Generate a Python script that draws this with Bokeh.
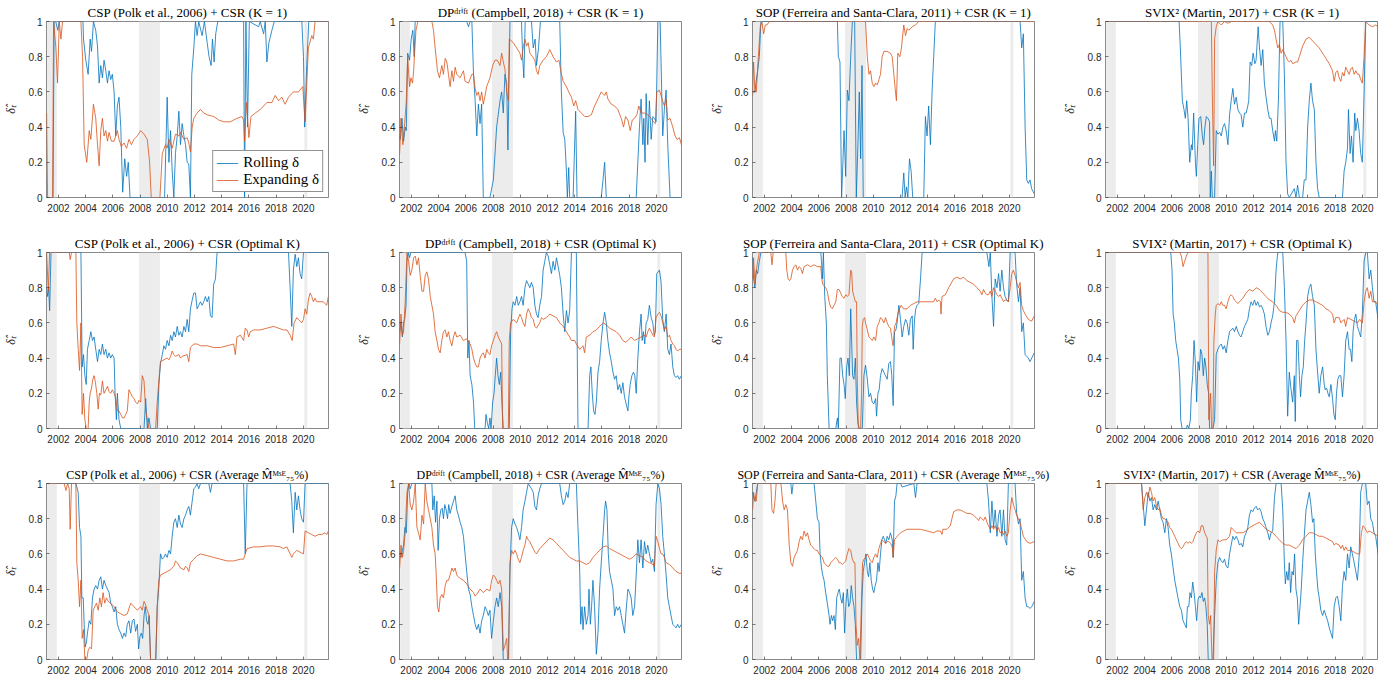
from bokeh.plotting import figure
from bokeh.layouts import column, row
from bokeh.models import Range1d, FixedTicker, Legend, LegendItem, Title
from bokeh.embed import file_html
from bokeh.resources import INLINE

# ---------------- data (decimal year, delta) ----------------
csp_k1_roll = [(2001.10,0.0),(2001.60,0.0),(2001.68,1.0),(2001.80,1.0),(2001.95,0.95),(2002.05,1.0),(2003.80,1.0),(2003.84,0.9),(2004.01,0.78),(2004.18,0.70),(2004.33,0.9),(2004.43,0.83),(2004.57,1.0),(2004.74,0.95),(2004.87,0.86),(2004.99,0.65),(2005.11,0.75),(2005.23,0.68),(2005.35,0.78),(2005.48,0.72),(2005.60,0.65),(2005.72,0.72),(2005.84,0.67),(2005.96,0.7),(2006.09,0.6),(2006.21,0.35),(2006.33,0.52),(2006.45,0.57),(2006.58,0.4),(2006.72,0.03),(2006.87,0.22),(2007.01,0.12),(2007.13,0.2),(2007.26,0.0),(2009.80,0.0),(2009.99,0.57),(2010.12,0.2),(2010.24,0.38),(2010.36,0.15),(2010.48,0.0),(2010.60,0.25),(2010.73,0.35),(2010.85,0.49),(2010.97,0.3),(2011.09,0.42),(2011.22,0.35),(2011.34,0.3),(2011.46,0.2),(2011.58,0.19),(2011.70,0.0),(2011.80,0.7),(2011.95,0.85),(2012.07,1.0),(2012.19,0.92),(2012.31,1.0),(2012.56,0.92),(2012.73,1.0),(2012.93,0.88),(2013.07,0.8),(2013.22,0.75),(2013.32,0.9),(2013.44,0.77),(2013.56,0.93),(2013.71,1.0),(2015.61,1.0),(2015.68,0.0),(2015.78,1.0),(2015.90,0.4),(2016.03,1.0),(2016.71,0.97),(2016.83,1.0),(2017.08,0.93),(2017.20,1.0),(2017.32,0.77),(2017.47,0.88),(2017.69,0.95),(2017.86,1.0),(2019.89,1.0),(2020.01,0.8),(2020.10,0.4),(2020.25,0.75),(2020.40,1.0),(2021.85,1.0)]
csp_k1_exp = [(2001.13,0.48),(2001.20,0.0),(2001.57,0.0),(2001.64,1.0),(2001.81,0.85),(2001.93,0.65),(2002.06,1.0),(2002.18,0.9),(2002.30,1.0),(2003.65,1.0),(2003.77,0.8),(2003.89,0.3),(2004.08,0.2),(2004.26,0.38),(2004.38,0.33),(2004.57,0.53),(2004.74,0.45),(2004.87,0.3),(2004.99,0.18),(2005.11,0.38),(2005.23,0.45),(2005.35,0.35),(2005.48,0.38),(2005.60,0.32),(2005.72,0.37),(2005.89,0.32),(2006.09,0.32),(2006.33,0.38),(2006.45,0.33),(2006.62,0.29),(2006.82,0.31),(2007.01,0.28),(2007.18,0.33),(2007.36,0.3),(2007.55,0.33),(2007.80,0.35),(2008.04,0.38),(2008.29,0.36),(2008.53,0.33),(2008.70,0.2),(2008.82,0.0),(2009.46,0.0),(2009.63,0.25),(2009.87,0.3),(2009.99,0.28),(2010.12,0.33),(2010.36,0.28),(2010.60,0.36),(2010.85,0.35),(2010.97,0.37),(2011.22,0.33),(2011.46,0.34),(2011.58,0.31),(2011.70,0.26),(2011.83,0.4),(2011.95,0.45),(2012.19,0.48),(2012.44,0.5),(2012.68,0.48),(2012.93,0.47),(2013.41,0.46),(2013.78,0.44),(2014.15,0.43),(2014.63,0.43),(2015.12,0.45),(2015.49,0.46),(2015.61,0.44),(2015.68,0.32),(2015.81,0.54),(2015.90,0.45),(2016.00,0.34),(2016.15,0.46),(2016.47,0.48),(2016.83,0.5),(2017.08,0.52),(2017.32,0.54),(2017.69,0.54),(2017.93,0.58),(2018.18,0.55),(2018.42,0.57),(2018.66,0.53),(2018.91,0.57),(2019.27,0.6),(2019.64,0.6),(2019.96,0.63),(2020.13,0.43),(2020.37,0.85),(2020.62,0.92),(2020.74,0.9),(2020.86,1.0),(2021.84,1.0)]

dp_k1_roll = [(2001.13,0.35),(2001.18,0.33),(2001.30,0.45),(2001.42,0.32),(2001.54,0.4),(2001.62,0.38),(2001.72,0.82),(2001.86,0.78),(2001.98,0.9),(2002.10,0.95),(2002.20,0.8),(2002.27,1.0),(2006.06,1.0),(2006.19,0.97),(2006.31,1.0),(2006.44,1.0),(2006.56,0.7),(2006.68,0.55),(2006.80,0.35),(2006.92,0.53),(2007.04,0.42),(2007.16,0.53),(2007.28,0.0),(2007.77,0.0),(2008.02,0.1),(2008.26,0.4),(2008.51,0.55),(2008.63,0.6),(2008.75,0.48),(2008.87,0.7),(2009.00,0.65),(2009.09,0.27),(2009.24,1.0),(2010.09,1.0),(2010.17,0.8),(2010.26,0.68),(2010.36,1.0),(2010.82,1.0),(2010.95,0.85),(2011.09,0.9),(2011.19,0.75),(2011.34,0.85),(2011.48,1.0),(2012.90,1.0),(2013.02,0.6),(2013.15,0.37),(2013.27,0.33),(2013.39,0.15),(2013.46,0.0),(2013.56,0.17),(2013.63,0.0),(2013.88,0.0),(2014.07,0.49),(2014.17,0.0),(2015.95,0.0),(2016.08,0.1),(2016.20,0.2),(2016.32,0.0),(2018.52,0.0),(2018.76,0.4),(2018.88,0.56),(2019.01,0.3),(2019.08,0.45),(2019.17,0.2),(2019.25,0.59),(2019.37,0.3),(2019.49,0.55),(2019.62,0.33),(2019.74,0.46),(2019.86,0.45),(2019.98,0.43),(2020.11,1.0),(2020.28,1.0),(2020.47,0.35),(2020.59,0.5),(2020.72,0.61),(2020.84,0.3),(2021.01,0.0),(2021.84,0.0)]
dp_k1_exp = [(2001.13,0.25),(2001.23,0.45),(2001.37,0.3),(2001.50,0.42),(2001.62,0.55),(2001.72,0.8),(2001.86,0.63),(2001.96,0.68),(2002.08,0.65),(2002.16,0.72),(2002.23,0.82),(2002.33,0.95),(2002.47,1.0),(2003.50,1.0),(2003.62,0.95),(2003.74,0.85),(2003.91,0.72),(2004.06,0.68),(2004.23,0.75),(2004.35,0.7),(2004.48,0.79),(2004.60,0.77),(2004.72,0.7),(2004.84,0.63),(2004.97,0.72),(2005.09,0.66),(2005.21,0.74),(2005.33,0.7),(2005.58,0.68),(2005.82,0.72),(2005.94,0.66),(2006.19,0.65),(2006.44,0.7),(2006.56,0.7),(2006.68,0.62),(2006.80,0.58),(2006.92,0.6),(2007.04,0.55),(2007.16,0.6),(2007.28,0.53),(2007.41,0.58),(2007.53,0.63),(2007.77,0.68),(2007.97,0.75),(2008.14,0.78),(2008.31,0.78),(2008.51,0.75),(2008.63,0.82),(2008.75,0.77),(2008.87,0.73),(2009.00,0.6),(2009.12,0.55),(2009.19,0.9),(2009.48,0.88),(2009.73,0.85),(2009.97,0.82),(2010.09,0.78),(2010.21,0.85),(2010.34,0.9),(2010.46,0.86),(2010.58,0.88),(2010.70,0.82),(2010.90,0.8),(2011.07,0.78),(2011.19,0.72),(2011.31,0.7),(2011.43,0.75),(2011.68,0.78),(2011.92,0.8),(2012.17,0.84),(2012.41,0.8),(2012.66,0.77),(2012.85,0.78),(2012.97,0.72),(2013.15,0.66),(2013.39,0.63),(2013.56,0.6),(2013.76,0.57),(2013.93,0.52),(2014.07,0.55),(2014.24,0.5),(2014.49,0.48),(2014.73,0.46),(2014.98,0.46),(2015.22,0.47),(2015.46,0.52),(2015.71,0.56),(2015.95,0.6),(2016.20,0.58),(2016.32,0.6),(2016.44,0.56),(2016.69,0.53),(2016.93,0.52),(2017.17,0.5),(2017.42,0.45),(2017.59,0.4),(2017.74,0.46),(2017.91,0.44),(2018.08,0.38),(2018.23,0.44),(2018.40,0.45),(2018.57,0.47),(2018.71,0.52),(2018.88,0.48),(2019.13,0.48),(2019.37,0.47),(2019.62,0.45),(2019.79,0.43),(2019.93,0.42),(2020.03,0.6),(2020.23,0.61),(2020.42,0.56),(2020.59,0.52),(2020.72,0.56),(2020.84,0.44),(2021.01,0.45),(2021.21,0.4),(2021.38,0.35),(2021.53,0.33),(2021.70,0.34),(2021.84,0.3)]

sop_k1_roll = [(2001.13,0.6),(2001.30,0.6),(2001.37,0.65),(2001.50,0.72),(2001.62,0.8),(2001.74,1.0),(2007.36,1.0),(2007.43,0.8),(2007.55,0.77),(2007.67,0.0),(2007.85,0.38),(2007.97,0.12),(2008.09,0.61),(2008.21,0.55),(2008.34,0.8),(2008.46,1.0),(2008.63,1.0),(2008.75,0.0),(2008.87,0.3),(2008.97,0.6),(2009.07,0.22),(2009.17,0.75),(2009.26,0.0),(2012.12,0.0),(2012.24,0.14),(2012.34,0.0),(2012.44,0.06),(2012.54,0.0),(2012.66,0.22),(2012.78,0.15),(2012.90,0.0),(2013.71,0.0),(2013.83,0.46),(2013.95,0.35),(2014.07,0.52),(2014.20,0.3),(2014.32,0.6),(2014.44,0.8),(2014.56,1.0),(2020.79,1.0),(2020.91,0.85),(2021.03,0.93),(2021.16,0.4),(2021.28,0.1),(2021.40,0.08),(2021.52,0.1),(2021.64,0.05),(2021.84,0.02)]
sop_k1_exp = [(2001.13,0.58),(2001.20,0.77),(2001.30,0.6),(2001.40,0.6),(2001.55,0.8),(2001.69,0.97),(2001.81,1.0),(2001.94,0.93),(2002.06,0.98),(2002.18,0.98),(2002.35,1.0),(2009.43,1.0),(2009.56,0.8),(2009.68,0.7),(2009.80,0.72),(2009.92,0.65),(2010.04,0.63),(2010.17,0.65),(2010.29,0.64),(2010.41,0.67),(2010.53,0.7),(2010.65,0.8),(2010.78,0.83),(2011.02,0.83),(2011.26,0.82),(2011.39,0.8),(2011.51,0.7),(2011.63,0.6),(2011.70,0.55),(2011.80,0.82),(2011.95,0.8),(2012.07,0.85),(2012.24,0.98),(2012.37,0.92),(2012.49,0.96),(2012.61,0.95),(2012.86,0.97),(2013.10,0.98),(2013.34,1.0),(2021.84,1.0)]

svix_k1_roll = [(2001.13,1.0),(2006.53,1.0),(2006.62,0.85),(2006.77,0.55),(2006.89,0.5),(2006.99,0.45),(2007.09,0.55),(2007.19,0.45),(2007.31,0.2),(2007.43,0.3),(2007.50,0.27),(2007.60,0.48),(2007.73,0.2),(2007.80,0.12),(2007.90,0.3),(2007.99,0.45),(2008.12,0.46),(2008.24,0.35),(2008.33,0.3),(2008.43,0.4),(2008.53,0.46),(2008.65,0.45),(2008.77,0.43),(2008.82,0.0),(2008.90,0.15),(2008.97,0.0),(2009.14,0.0),(2009.26,0.38),(2009.38,0.36),(2009.51,0.37),(2009.63,0.35),(2009.75,0.4),(2009.87,0.42),(2009.99,0.38),(2010.12,0.3),(2010.24,0.47),(2010.36,0.55),(2010.48,0.62),(2010.60,0.53),(2010.73,0.57),(2010.85,0.5),(2010.97,0.48),(2011.09,0.47),(2011.21,0.4),(2011.34,0.48),(2011.46,0.48),(2011.58,0.52),(2011.65,0.55),(2011.75,0.77),(2011.87,0.75),(2011.97,0.82),(2012.10,0.76),(2012.19,0.78),(2012.34,0.97),(2012.44,0.85),(2012.56,0.75),(2012.68,0.84),(2012.80,0.65),(2012.92,0.57),(2013.05,0.5),(2013.17,0.45),(2013.29,0.45),(2013.41,0.38),(2013.54,0.32),(2013.61,0.38),(2013.71,0.32),(2013.83,0.55),(2013.95,1.0),(2014.15,1.0),(2014.27,0.7),(2014.39,0.2),(2014.51,0.02),(2014.63,0.0),(2015.00,0.05),(2015.12,0.0),(2015.24,0.07),(2015.37,0.0),(2015.61,0.0),(2015.73,0.1),(2015.86,0.1),(2015.98,0.4),(2016.10,0.55),(2016.22,0.65),(2016.34,0.55),(2016.47,0.5),(2016.59,0.2),(2016.71,0.05),(2016.83,0.0),(2018.54,0.0),(2018.66,0.15),(2018.78,0.2),(2018.91,0.28),(2018.98,0.5),(2019.10,0.25),(2019.20,0.35),(2019.32,0.2),(2019.44,0.48),(2019.52,0.38),(2019.64,0.45),(2019.76,0.38),(2019.88,0.25),(2020.00,0.2),(2020.13,0.6),(2020.25,1.0),(2021.85,1.0)]
svix_k1_exp = [(2001.13,1.0),(2008.90,1.0),(2008.97,0.6),(2009.07,0.18),(2009.14,0.9),(2009.26,0.97),(2009.38,1.0),(2009.63,0.98),(2009.87,1.0),(2010.12,0.99),(2010.36,1.0),(2013.17,1.0),(2013.41,0.98),(2013.54,0.95),(2013.66,0.9),(2013.78,0.85),(2013.90,0.87),(2014.03,0.82),(2014.15,0.84),(2014.27,0.82),(2014.39,0.8),(2014.51,0.78),(2014.63,0.77),(2014.76,0.78),(2014.88,0.76),(2015.12,0.77),(2015.24,0.77),(2015.37,0.8),(2015.61,0.86),(2015.86,0.9),(2016.10,0.91),(2016.34,0.89),(2016.59,0.87),(2016.83,0.85),(2017.08,0.82),(2017.32,0.79),(2017.57,0.76),(2017.81,0.72),(2017.93,0.66),(2018.05,0.71),(2018.17,0.72),(2018.30,0.68),(2018.42,0.66),(2018.54,0.71),(2018.66,0.69),(2018.78,0.74),(2018.91,0.72),(2019.03,0.7),(2019.15,0.73),(2019.27,0.74),(2019.40,0.7),(2019.52,0.72),(2019.64,0.7),(2019.76,0.7),(2019.88,0.67),(2020.00,0.65),(2020.13,0.8),(2020.25,1.0),(2020.50,0.98),(2020.74,0.97),(2020.98,0.98),(2021.16,0.97),(2021.85,0.97)]

csp_opt_roll = [(2001.13,0.8),(2001.20,0.75),(2001.28,0.8),(2001.35,0.67),(2001.45,1.0),(2003.65,1.0),(2003.74,0.35),(2003.84,0.42),(2003.94,0.3),(2004.04,0.25),(2004.13,0.45),(2004.26,0.5),(2004.38,0.55),(2004.50,0.5),(2004.62,0.52),(2004.74,0.45),(2004.87,0.38),(2004.99,0.45),(2005.11,0.42),(2005.23,0.48),(2005.35,0.42),(2005.48,0.45),(2005.60,0.4),(2005.72,0.43),(2005.84,0.4),(2005.96,0.42),(2006.09,0.4),(2006.16,0.2),(2006.26,0.05),(2006.33,0.2),(2006.45,0.05),(2006.58,0.0),(2008.29,0.0),(2008.41,0.17),(2008.53,0.0),(2008.65,0.06),(2008.77,0.0),(2009.26,0.0),(2009.38,0.25),(2009.50,0.37),(2009.63,0.42),(2009.75,0.47),(2009.87,0.45),(2009.99,0.5),(2010.12,0.47),(2010.24,0.53),(2010.36,0.5),(2010.48,0.55),(2010.60,0.52),(2010.73,0.58),(2010.85,0.53),(2010.97,0.55),(2011.09,0.52),(2011.22,0.58),(2011.34,0.55),(2011.46,0.62),(2011.58,0.55),(2011.70,0.68),(2011.83,0.73),(2011.95,0.77),(2012.07,0.77),(2012.19,0.68),(2012.31,0.7),(2012.44,0.72),(2012.56,0.7),(2012.68,0.72),(2012.80,0.75),(2012.93,0.72),(2013.05,0.75),(2013.17,0.64),(2013.29,0.63),(2013.41,0.82),(2013.54,0.85),(2013.66,1.0),(2018.91,1.0),(2019.03,0.8),(2019.15,0.58),(2019.27,0.9),(2019.40,0.99),(2019.52,0.92),(2019.64,0.97),(2019.76,0.88),(2019.88,0.85),(2020.01,1.0),(2021.84,1.0)]
csp_opt_exp = [(2001.13,1.0),(2001.25,0.78),(2001.35,1.0),(2002.79,1.0),(2002.86,0.96),(2002.96,1.0),(2003.28,1.0),(2003.35,0.6),(2003.45,0.45),(2003.55,0.33),(2003.65,0.6),(2003.74,0.08),(2003.84,0.2),(2003.94,0.05),(2004.04,0.0),(2004.18,0.0),(2004.26,0.15),(2004.33,0.2),(2004.43,0.23),(2004.53,0.28),(2004.62,0.3),(2004.72,0.26),(2004.82,0.2),(2004.92,0.11),(2005.01,0.2),(2005.11,0.19),(2005.23,0.27),(2005.35,0.2),(2005.48,0.22),(2005.60,0.24),(2005.72,0.21),(2005.84,0.2),(2005.96,0.22),(2006.09,0.2),(2006.21,0.17),(2006.33,0.1),(2006.45,0.1),(2006.58,0.08),(2006.70,0.06),(2006.82,0.06),(2006.94,0.08),(2007.06,0.1),(2007.18,0.22),(2007.31,0.2),(2007.43,0.18),(2007.55,0.17),(2007.67,0.15),(2007.80,0.14),(2007.92,0.16),(2008.04,0.15),(2008.16,0.3),(2008.29,0.27),(2008.41,0.1),(2008.53,0.05),(2008.65,0.0),(2009.14,0.0),(2009.26,0.15),(2009.38,0.27),(2009.50,0.38),(2009.75,0.39),(2009.99,0.4),(2010.12,0.39),(2010.24,0.41),(2010.36,0.44),(2010.48,0.42),(2010.60,0.41),(2010.85,0.42),(2010.97,0.4),(2011.09,0.41),(2011.46,0.42),(2011.58,0.38),(2011.70,0.46),(2011.95,0.48),(2012.19,0.48),(2012.44,0.47),(2012.93,0.47),(2013.41,0.46),(2013.90,0.46),(2014.39,0.47),(2014.88,0.48),(2015.00,0.42),(2015.12,0.52),(2015.37,0.53),(2015.61,0.5),(2015.73,0.57),(2015.86,0.56),(2015.98,0.52),(2016.10,0.55),(2016.34,0.56),(2016.83,0.56),(2017.32,0.57),(2017.81,0.58),(2018.18,0.57),(2018.54,0.56),(2018.79,0.56),(2019.03,0.53),(2019.18,0.5),(2019.32,0.6),(2019.52,0.63),(2019.64,0.62),(2019.88,0.6),(2020.01,0.62),(2020.13,0.68),(2020.25,0.65),(2020.37,0.73),(2020.50,0.77),(2020.62,0.75),(2020.74,0.72),(2020.86,0.74),(2020.98,0.72),(2021.23,0.72),(2021.47,0.72),(2021.72,0.7),(2021.84,0.75)]

dp_opt_roll = [(2001.13,0.55),(2001.23,0.6),(2001.33,0.52),(2001.42,0.6),(2001.50,0.62),(2001.60,0.7),(2001.67,0.95),(2001.77,1.0),(2001.86,0.97),(2001.96,1.0),(2005.94,1.0),(2006.06,0.95),(2006.14,0.4),(2006.23,0.5),(2006.31,0.3),(2006.44,0.25),(2006.56,0.15),(2006.65,0.0),(2007.41,0.0),(2007.48,0.08),(2007.58,0.03),(2007.68,0.0),(2007.77,0.06),(2007.85,0.0),(2007.97,0.15),(2008.07,0.2),(2008.16,0.3),(2008.26,0.4),(2008.36,0.3),(2008.46,0.25),(2008.56,0.32),(2008.65,0.15),(2008.75,0.0),(2009.19,0.0),(2009.29,0.55),(2009.39,0.68),(2009.48,0.72),(2009.61,0.7),(2009.73,0.75),(2009.85,0.7),(2009.97,0.72),(2010.09,0.75),(2010.21,0.7),(2010.34,0.8),(2010.46,0.84),(2010.58,0.82),(2010.70,0.8),(2010.82,0.83),(2010.95,0.8),(2011.07,0.7),(2011.19,0.65),(2011.31,0.63),(2011.43,0.7),(2011.56,0.75),(2011.68,0.9),(2011.80,0.95),(2011.92,1.0),(2012.05,0.98),(2012.17,0.93),(2012.29,0.88),(2012.41,0.95),(2012.54,0.9),(2012.66,0.97),(2012.78,0.92),(2012.90,0.87),(2013.02,0.8),(2013.15,0.65),(2013.27,0.55),(2013.39,0.67),(2013.51,0.6),(2013.63,0.67),(2013.76,1.0),(2014.12,1.0),(2014.24,0.0),(2014.98,0.0),(2015.10,0.3),(2015.19,0.35),(2015.29,0.2),(2015.39,0.1),(2015.49,0.08),(2015.59,0.15),(2015.71,0.32),(2015.83,0.38),(2015.95,0.5),(2016.08,0.6),(2016.20,0.66),(2016.32,0.6),(2016.44,0.5),(2016.56,0.43),(2016.69,0.38),(2016.81,0.32),(2016.93,0.28),(2017.05,0.3),(2017.17,0.22),(2017.30,0.25),(2017.42,0.2),(2017.54,0.26),(2017.66,0.18),(2017.78,0.14),(2017.91,0.1),(2017.98,0.18),(2018.08,0.25),(2018.20,0.3),(2018.32,0.32),(2018.42,0.3),(2018.52,0.2),(2018.64,0.4),(2018.76,0.55),(2018.88,0.65),(2018.96,0.5),(2019.05,0.55),(2019.15,0.48),(2019.25,0.6),(2019.37,0.62),(2019.49,0.7),(2019.62,0.63),(2019.74,0.6),(2019.84,0.53),(2019.93,0.55),(2020.03,0.88),(2020.23,0.9),(2020.35,0.83),(2020.47,0.62),(2020.59,0.55),(2020.72,0.65),(2020.84,0.45),(2020.96,0.42),(2021.08,0.48),(2021.21,0.35),(2021.33,0.3),(2021.45,0.29),(2021.57,0.3),(2021.69,0.28),(2021.84,0.3)]
dp_opt_exp = [(2001.13,0.48),(2001.23,0.65),(2001.33,0.53),(2001.42,0.55),(2001.54,0.72),(2001.67,1.0),(2001.79,0.95),(2001.91,0.87),(2002.03,0.9),(2002.16,0.97),(2002.28,0.98),(2002.40,0.93),(2002.52,0.97),(2002.64,0.87),(2002.77,0.78),(2002.89,0.78),(2003.01,0.87),(2003.13,0.89),(2003.25,0.85),(2003.38,0.75),(2003.50,0.7),(2003.62,0.65),(2003.74,0.55),(2003.87,0.5),(2003.99,0.45),(2004.11,0.43),(2004.23,0.5),(2004.35,0.55),(2004.48,0.56),(2004.60,0.52),(2004.72,0.55),(2004.84,0.5),(2004.97,0.47),(2005.09,0.52),(2005.21,0.55),(2005.33,0.52),(2005.58,0.53),(2005.82,0.5),(2006.06,0.51),(2006.31,0.48),(2006.44,0.45),(2006.56,0.4),(2006.68,0.37),(2006.80,0.35),(2006.92,0.35),(2007.04,0.4),(2007.16,0.42),(2007.28,0.43),(2007.41,0.4),(2007.53,0.45),(2007.65,0.43),(2007.77,0.42),(2007.89,0.47),(2008.02,0.5),(2008.14,0.53),(2008.26,0.55),(2008.38,0.52),(2008.51,0.5),(2008.63,0.48),(2008.70,0.0),(2009.12,0.0),(2009.19,0.5),(2009.29,0.6),(2009.48,0.62),(2009.73,0.6),(2009.97,0.65),(2010.09,0.63),(2010.21,0.6),(2010.34,0.58),(2010.46,0.65),(2010.58,0.68),(2010.70,0.66),(2010.82,0.63),(2010.95,0.62),(2011.07,0.58),(2011.19,0.57),(2011.43,0.6),(2011.56,0.63),(2011.68,0.62),(2011.92,0.63),(2012.17,0.65),(2012.41,0.64),(2012.66,0.63),(2012.90,0.6),(2013.15,0.58),(2013.39,0.55),(2013.63,0.52),(2013.76,0.5),(2014.00,0.5),(2014.12,0.48),(2014.37,0.45),(2014.61,0.47),(2014.73,0.43),(2014.85,0.52),(2015.10,0.53),(2015.34,0.55),(2015.59,0.56),(2015.83,0.58),(2016.08,0.6),(2016.32,0.59),(2016.56,0.57),(2016.81,0.56),(2017.05,0.55),(2017.30,0.53),(2017.54,0.5),(2017.74,0.49),(2017.91,0.5),(2018.15,0.52),(2018.40,0.5),(2018.64,0.51),(2018.88,0.52),(2019.13,0.53),(2019.25,0.52),(2019.37,0.55),(2019.49,0.57),(2019.62,0.55),(2019.74,0.53),(2019.86,0.52),(2019.98,0.63),(2020.11,0.65),(2020.23,0.66),(2020.35,0.64),(2020.47,0.6),(2020.59,0.56),(2020.72,0.58),(2020.84,0.52),(2020.96,0.53),(2021.08,0.5),(2021.21,0.48),(2021.33,0.47),(2021.45,0.45),(2021.57,0.44),(2021.69,0.45),(2021.84,0.45)]

sop_opt_roll = [(2001.13,0.97),(2001.20,0.85),(2001.30,0.8),(2001.40,0.9),(2001.50,0.88),(2001.62,0.95),(2001.74,1.0),(2006.14,1.0),(2006.19,0.95),(2006.26,0.85),(2006.33,1.0),(2006.43,0.75),(2006.55,0.6),(2006.62,0.3),(2006.75,0.0),(2007.24,0.0),(2007.36,0.06),(2007.43,0.0),(2007.55,0.4),(2007.65,0.4),(2007.75,0.3),(2007.85,0.25),(2007.94,0.17),(2008.04,0.35),(2008.14,0.4),(2008.24,0.3),(2008.34,0.68),(2008.41,0.5),(2008.48,0.3),(2008.58,0.28),(2008.68,0.4),(2008.77,0.15),(2008.87,0.03),(2008.97,0.0),(2009.19,0.0),(2009.31,0.3),(2009.43,0.36),(2009.56,0.28),(2009.68,0.18),(2009.80,0.2),(2009.92,0.15),(2010.04,0.14),(2010.17,0.17),(2010.24,0.07),(2010.34,0.2),(2010.43,0.22),(2010.53,0.3),(2010.65,0.34),(2010.78,0.32),(2010.90,0.3),(2011.02,0.28),(2011.14,0.37),(2011.26,0.38),(2011.36,0.3),(2011.46,0.13),(2011.56,0.55),(2011.66,0.56),(2011.75,0.6),(2011.88,0.7),(2012.00,0.62),(2012.12,0.52),(2012.24,0.58),(2012.37,0.62),(2012.49,0.6),(2012.61,0.53),(2012.73,0.62),(2012.86,0.64),(2012.93,0.45),(2013.03,0.62),(2013.12,0.68),(2013.22,0.7),(2013.34,0.71),(2013.47,0.85),(2013.59,1.0),(2018.35,1.0),(2018.50,0.92),(2018.60,1.0),(2018.72,0.75),(2018.84,0.58),(2018.96,0.85),(2019.09,0.8),(2019.21,0.88),(2019.32,0.78),(2019.45,0.9),(2019.57,0.8),(2019.69,0.75),(2019.81,0.73),(2019.93,0.72),(2020.06,1.0),(2020.42,1.0),(2020.54,0.82),(2020.67,0.72),(2020.79,0.8),(2020.91,0.55),(2021.03,0.6),(2021.16,0.42),(2021.28,0.41),(2021.40,0.4),(2021.52,0.38),(2021.84,0.43)]
sop_opt_exp = [(2001.13,0.85),(2001.20,0.97),(2001.30,0.82),(2001.40,0.9),(2001.50,0.95),(2001.62,1.0),(2002.47,1.0),(2002.55,0.93),(2002.64,1.0),(2003.57,1.0),(2003.64,0.9),(2003.74,0.85),(2003.84,0.84),(2003.94,0.85),(2004.06,0.9),(2004.18,0.92),(2004.30,0.93),(2004.43,0.9),(2004.55,0.92),(2004.67,0.91),(2004.79,0.88),(2004.91,0.92),(2005.16,0.93),(2005.40,0.92),(2005.65,0.93),(2005.89,0.92),(2006.14,0.92),(2006.21,0.85),(2006.28,0.82),(2006.38,0.81),(2006.50,0.8),(2006.62,0.78),(2006.75,0.72),(2006.87,0.69),(2006.99,0.68),(2007.11,0.7),(2007.24,0.72),(2007.36,0.79),(2007.48,0.79),(2007.60,0.77),(2007.72,0.75),(2007.85,0.74),(2007.97,0.76),(2008.09,0.75),(2008.21,0.76),(2008.34,0.9),(2008.41,0.89),(2008.48,0.78),(2008.58,0.75),(2008.68,0.72),(2008.77,0.72),(2008.82,0.3),(2008.90,0.0),(2009.07,0.0),(2009.14,0.2),(2009.19,0.58),(2009.26,0.62),(2009.36,0.63),(2009.43,0.6),(2009.56,0.56),(2009.68,0.52),(2009.80,0.51),(2009.92,0.5),(2010.04,0.52),(2010.17,0.5),(2010.29,0.58),(2010.41,0.6),(2010.53,0.63),(2010.65,0.62),(2010.78,0.6),(2010.90,0.63),(2011.02,0.6),(2011.14,0.58),(2011.26,0.57),(2011.39,0.5),(2011.46,0.47),(2011.56,0.58),(2011.68,0.6),(2011.80,0.65),(2011.92,0.68),(2012.05,0.7),(2012.24,0.68),(2012.49,0.68),(2012.73,0.7),(2012.98,0.71),(2013.22,0.72),(2013.96,0.72),(2014.44,0.72),(2014.56,0.74),(2014.69,0.72),(2014.81,0.73),(2014.93,0.72),(2014.98,0.65),(2015.05,0.75),(2015.30,0.76),(2015.54,0.8),(2015.91,0.85),(2016.15,0.86),(2016.39,0.85),(2016.64,0.86),(2016.88,0.84),(2017.13,0.83),(2017.37,0.82),(2017.62,0.8),(2017.86,0.78),(2017.98,0.76),(2018.10,0.79),(2018.23,0.77),(2018.35,0.76),(2018.47,0.76),(2018.60,0.78),(2018.72,0.75),(2018.84,0.8),(2018.96,0.78),(2019.09,0.76),(2019.21,0.75),(2019.32,0.76),(2019.45,0.74),(2019.57,0.72),(2019.69,0.73),(2019.81,0.73),(2019.93,0.72),(2020.06,0.8),(2020.18,0.88),(2020.30,0.9),(2020.42,0.87),(2020.54,0.83),(2020.67,0.8),(2020.79,0.83),(2020.91,0.7),(2021.03,0.67),(2021.16,0.65),(2021.40,0.62),(2021.64,0.61),(2021.84,0.64)]

svix_opt_roll = [(2001.13,1.0),(2005.92,1.0),(2006.01,0.9),(2006.09,0.65),(2006.18,0.6),(2006.28,0.5),(2006.38,0.45),(2006.48,0.4),(2006.58,0.28),(2006.65,0.05),(2006.75,0.0),(2007.06,0.0),(2007.14,0.02),(2007.24,0.0),(2007.36,0.05),(2007.43,0.2),(2007.53,0.3),(2007.63,0.5),(2007.73,0.37),(2007.82,0.15),(2007.92,0.38),(2008.02,0.33),(2008.11,0.45),(2008.21,0.42),(2008.31,0.3),(2008.41,0.4),(2008.50,0.35),(2008.60,0.25),(2008.70,0.2),(2008.77,0.0),(2009.02,0.0),(2009.14,0.05),(2009.26,0.42),(2009.38,0.45),(2009.51,0.47),(2009.63,0.48),(2009.75,0.45),(2009.87,0.47),(2009.99,0.43),(2010.12,0.5),(2010.24,0.55),(2010.36,0.56),(2010.48,0.57),(2010.60,0.55),(2010.73,0.58),(2010.85,0.55),(2010.97,0.53),(2011.09,0.52),(2011.21,0.55),(2011.34,0.58),(2011.46,0.6),(2011.58,0.62),(2011.70,0.68),(2011.82,0.72),(2011.95,0.7),(2012.07,0.73),(2012.19,0.7),(2012.31,0.72),(2012.44,0.69),(2012.56,0.7),(2012.68,0.68),(2012.80,0.65),(2012.92,0.58),(2013.05,0.53),(2013.17,0.55),(2013.29,0.6),(2013.41,0.64),(2013.54,0.72),(2013.66,0.9),(2013.78,1.0),(2014.15,1.0),(2014.27,0.8),(2014.39,0.5),(2014.51,0.07),(2014.63,0.32),(2014.76,0.22),(2014.88,0.15),(2015.00,0.3),(2015.07,0.04),(2015.17,0.5),(2015.27,0.5),(2015.37,0.3),(2015.46,0.18),(2015.56,0.3),(2015.66,0.35),(2015.76,0.5),(2015.86,0.6),(2015.98,0.75),(2016.10,0.8),(2016.22,0.82),(2016.34,0.75),(2016.47,0.7),(2016.59,0.45),(2016.71,0.32),(2016.83,0.2),(2016.95,0.3),(2017.08,0.35),(2017.20,0.25),(2017.27,0.22),(2017.37,0.23),(2017.47,0.2),(2017.57,0.18),(2017.69,0.25),(2017.81,0.17),(2017.91,0.08),(2018.01,0.05),(2018.10,0.2),(2018.20,0.28),(2018.30,0.3),(2018.42,0.3),(2018.54,0.18),(2018.66,0.3),(2018.78,0.5),(2018.91,0.55),(2019.03,0.45),(2019.13,0.45),(2019.23,0.38),(2019.32,0.55),(2019.42,0.62),(2019.52,0.65),(2019.64,0.58),(2019.76,0.55),(2019.88,0.52),(2020.00,0.65),(2020.13,0.95),(2020.25,1.0),(2020.37,1.0),(2020.50,0.85),(2020.62,0.9),(2020.74,0.8),(2020.86,0.72),(2020.98,0.72),(2021.16,0.62)]
svix_opt_exp = [(2001.13,1.0),(2006.58,1.0),(2006.70,0.98),(2006.82,0.92),(2006.94,0.95),(2007.06,0.98),(2007.19,1.0),(2008.65,1.0),(2008.72,0.05),(2008.77,0.1),(2008.85,0.2),(2008.92,0.0),(2009.02,0.0),(2009.09,0.5),(2009.19,0.65),(2009.26,0.7),(2009.38,0.71),(2009.51,0.7),(2009.63,0.72),(2009.75,0.7),(2009.87,0.7),(2009.99,0.68),(2010.12,0.72),(2010.24,0.75),(2010.36,0.76),(2010.48,0.75),(2010.60,0.73),(2010.73,0.72),(2010.85,0.71),(2010.97,0.72),(2011.21,0.74),(2011.46,0.77),(2011.70,0.79),(2011.95,0.78),(2012.19,0.8),(2012.44,0.79),(2012.68,0.77),(2012.92,0.75),(2013.17,0.73),(2013.41,0.72),(2013.66,0.7),(2013.90,0.67),(2014.15,0.66),(2014.39,0.66),(2014.63,0.65),(2014.88,0.63),(2015.00,0.6),(2015.12,0.64),(2015.37,0.67),(2015.61,0.7),(2015.86,0.72),(2016.10,0.73),(2016.34,0.73),(2016.59,0.72),(2016.83,0.71),(2017.08,0.7),(2017.32,0.68),(2017.57,0.67),(2017.81,0.65),(2017.93,0.6),(2018.05,0.63),(2018.30,0.63),(2018.42,0.6),(2018.66,0.62),(2018.78,0.58),(2018.91,0.63),(2019.15,0.62),(2019.40,0.61),(2019.64,0.6),(2019.81,0.62),(2020.00,0.6),(2020.13,0.72),(2020.25,0.78),(2020.37,0.8),(2020.50,0.74),(2020.62,0.78),(2020.74,0.72),(2020.98,0.72),(2021.16,0.7)]

csp_avg_roll = [(2001.13,1.0),(2003.28,1.0),(2003.45,0.95),(2003.55,0.75),(2003.65,0.7),(2003.72,0.35),(2003.82,0.35),(2003.89,0.2),(2003.96,0.07),(2004.06,0.1),(2004.13,0.15),(2004.26,0.22),(2004.38,0.2),(2004.50,0.35),(2004.62,0.4),(2004.74,0.42),(2004.87,0.4),(2004.99,0.45),(2005.11,0.47),(2005.23,0.4),(2005.35,0.45),(2005.48,0.42),(2005.60,0.4),(2005.72,0.38),(2005.84,0.32),(2005.96,0.3),(2006.09,0.27),(2006.21,0.3),(2006.33,0.2),(2006.45,0.17),(2006.58,0.15),(2006.70,0.12),(2006.82,0.15),(2006.94,0.13),(2007.06,0.2),(2007.18,0.22),(2007.31,0.15),(2007.43,0.22),(2007.55,0.23),(2007.67,0.16),(2007.80,0.2),(2007.89,0.06),(2007.99,0.13),(2008.09,0.15),(2008.19,0.12),(2008.29,0.25),(2008.38,0.3),(2008.48,0.22),(2008.58,0.2),(2008.67,0.25),(2008.77,0.0),(2009.16,0.0),(2009.26,0.3),(2009.38,0.42),(2009.50,0.6),(2009.63,0.57),(2009.75,0.58),(2009.87,0.6),(2009.99,0.58),(2010.12,0.62),(2010.24,0.6),(2010.36,0.7),(2010.48,0.78),(2010.60,0.8),(2010.73,0.75),(2010.85,0.82),(2010.97,0.77),(2011.09,0.75),(2011.22,0.8),(2011.34,0.82),(2011.46,0.85),(2011.58,0.87),(2011.70,0.82),(2011.83,0.9),(2011.95,0.97),(2012.07,0.98),(2012.19,1.0),(2012.31,0.97),(2012.44,1.0),(2013.05,1.0),(2013.17,0.95),(2013.29,1.0),(2015.61,1.0),(2015.73,0.6),(2015.86,1.0),(2019.03,1.0),(2019.15,0.9),(2019.27,0.72),(2019.40,0.95),(2019.52,0.85),(2019.64,0.93),(2019.76,0.85),(2019.88,0.8),(2020.01,0.78),(2020.13,1.0),(2021.84,1.0)]
csp_avg_exp = [(2001.13,1.0),(2002.42,1.0),(2002.55,0.96),(2002.67,1.0),(2002.79,0.97),(2002.86,0.74),(2002.96,1.0),(2003.28,1.0),(2003.35,0.55),(2003.45,0.45),(2003.55,0.3),(2003.65,0.45),(2003.74,0.12),(2003.84,0.17),(2003.94,0.0),(2004.08,0.0),(2004.18,0.05),(2004.30,0.07),(2004.43,0.06),(2004.55,0.28),(2004.67,0.3),(2004.79,0.32),(2004.92,0.28),(2005.04,0.35),(2005.16,0.3),(2005.28,0.38),(2005.40,0.32),(2005.53,0.35),(2005.65,0.33),(2005.84,0.32),(2006.09,0.3),(2006.33,0.27),(2006.58,0.26),(2006.82,0.25),(2007.06,0.26),(2007.31,0.32),(2007.55,0.3),(2007.80,0.28),(2008.04,0.3),(2008.16,0.28),(2008.29,0.33),(2008.41,0.31),(2008.53,0.28),(2008.65,0.25),(2008.77,0.0),(2009.14,0.0),(2009.26,0.3),(2009.38,0.45),(2009.50,0.48),(2009.99,0.5),(2010.24,0.51),(2010.48,0.53),(2010.60,0.56),(2010.73,0.55),(2010.97,0.52),(2011.22,0.51),(2011.34,0.53),(2011.46,0.52),(2011.58,0.5),(2011.70,0.55),(2011.95,0.57),(2012.19,0.59),(2012.44,0.6),(2012.93,0.59),(2013.41,0.58),(2013.90,0.57),(2014.39,0.56),(2014.88,0.56),(2015.37,0.57),(2015.61,0.57),(2015.73,0.6),(2015.86,0.63),(2016.34,0.64),(2016.83,0.64),(2017.32,0.645),(2017.81,0.645),(2018.30,0.64),(2018.54,0.63),(2018.79,0.64),(2019.03,0.6),(2019.15,0.58),(2019.27,0.6),(2019.52,0.62),(2019.76,0.61),(2020.01,0.6),(2020.13,0.73),(2020.37,0.72),(2020.62,0.71),(2020.86,0.7),(2021.11,0.71),(2021.35,0.71),(2021.60,0.72),(2021.72,0.71),(2021.84,0.73)]

dp_avg_roll = [(2001.13,0.6),(2001.23,0.58),(2001.33,0.62),(2001.42,0.65),(2001.52,0.75),(2001.62,0.72),(2001.72,0.95),(2001.82,1.0),(2001.91,0.97),(2002.03,1.0),(2003.50,1.0),(2003.57,0.85),(2003.67,0.93),(2003.77,0.78),(2003.87,0.9),(2003.96,0.62),(2004.06,0.8),(2004.16,0.85),(2004.26,0.86),(2004.35,0.8),(2004.45,0.88),(2004.55,0.85),(2004.65,0.8),(2004.74,0.88),(2004.84,0.83),(2004.97,0.87),(2005.09,0.9),(2005.21,0.93),(2005.33,0.85),(2005.45,0.82),(2005.58,0.78),(2005.70,0.75),(2005.82,0.7),(2005.94,0.6),(2006.06,0.5),(2006.19,0.4),(2006.31,0.37),(2006.44,0.3),(2006.56,0.25),(2006.68,0.2),(2006.80,0.17),(2006.92,0.2),(2007.04,0.15),(2007.16,0.22),(2007.28,0.25),(2007.41,0.3),(2007.53,0.28),(2007.65,0.25),(2007.77,0.28),(2007.89,0.12),(2008.02,0.22),(2008.14,0.3),(2008.26,0.35),(2008.38,0.3),(2008.51,0.38),(2008.63,0.3),(2008.75,0.0),(2009.12,0.0),(2009.24,0.5),(2009.36,0.75),(2009.48,0.8),(2009.61,0.77),(2009.73,0.75),(2009.85,0.72),(2009.97,0.68),(2010.09,0.75),(2010.21,0.85),(2010.34,0.9),(2010.46,0.95),(2010.58,1.0),(2010.82,0.97),(2010.95,0.95),(2011.07,0.87),(2011.19,0.85),(2011.31,0.93),(2011.43,0.97),(2011.56,1.0),(2012.90,1.0),(2013.02,0.93),(2013.15,0.88),(2013.27,0.9),(2013.39,0.95),(2013.51,0.92),(2013.63,1.0),(2014.12,1.0),(2014.24,0.75),(2014.37,0.5),(2014.44,0.2),(2014.54,0.3),(2014.61,0.17),(2014.73,0.3),(2014.85,0.2),(2014.98,0.25),(2015.05,0.4),(2015.15,0.2),(2015.24,0.3),(2015.34,0.45),(2015.46,0.3),(2015.59,0.03),(2015.71,0.15),(2015.83,0.4),(2015.95,0.55),(2016.08,0.7),(2016.20,0.85),(2016.27,0.9),(2016.37,0.85),(2016.47,0.6),(2016.56,0.5),(2016.69,0.45),(2016.81,0.4),(2016.93,0.25),(2017.05,0.3),(2017.17,0.28),(2017.30,0.3),(2017.42,0.25),(2017.54,0.2),(2017.66,0.15),(2017.78,0.28),(2017.91,0.4),(2018.03,0.38),(2018.15,0.35),(2018.27,0.25),(2018.40,0.3),(2018.52,0.48),(2018.64,0.68),(2018.76,0.55),(2018.88,0.68),(2019.01,0.52),(2019.13,0.67),(2019.25,0.6),(2019.37,0.65),(2019.49,0.6),(2019.62,0.55),(2019.74,0.57),(2019.86,0.5),(2019.98,0.88),(2020.11,1.0),(2020.23,0.97),(2020.35,0.88),(2020.47,0.7),(2020.59,0.6),(2020.72,0.48),(2020.84,0.35),(2020.96,0.3),(2021.08,0.25),(2021.21,0.2),(2021.33,0.19),(2021.45,0.18),(2021.57,0.2),(2021.69,0.18),(2021.84,0.2)]
dp_avg_exp = [(2001.13,0.52),(2001.23,0.65),(2001.33,0.58),(2001.42,0.62),(2001.54,0.72),(2001.67,0.95),(2001.79,1.0),(2001.91,0.88),(2002.03,0.85),(2002.16,0.9),(2002.28,1.0),(2002.40,0.75),(2002.52,0.72),(2002.64,0.68),(2002.77,0.82),(2002.89,0.77),(2003.01,1.0),(2003.13,0.9),(2003.25,0.85),(2003.38,0.8),(2003.50,0.75),(2003.62,0.65),(2003.74,0.6),(2003.82,0.48),(2003.91,0.3),(2004.01,0.27),(2004.11,0.35),(2004.23,0.37),(2004.35,0.35),(2004.48,0.42),(2004.60,0.45),(2004.72,0.45),(2004.84,0.48),(2004.97,0.52),(2005.09,0.5),(2005.21,0.52),(2005.33,0.48),(2005.45,0.47),(2005.58,0.46),(2005.82,0.45),(2006.06,0.43),(2006.31,0.4),(2006.56,0.38),(2006.68,0.36),(2006.80,0.37),(2007.04,0.4),(2007.28,0.38),(2007.53,0.4),(2007.77,0.39),(2007.89,0.45),(2008.02,0.48),(2008.14,0.47),(2008.26,0.45),(2008.38,0.43),(2008.51,0.45),(2008.63,0.4),(2008.75,0.05),(2008.87,0.08),(2009.00,0.12),(2009.07,0.0),(2009.14,0.0),(2009.24,0.55),(2009.36,0.62),(2009.48,0.6),(2009.61,0.62),(2009.73,0.6),(2009.85,0.57),(2009.97,0.55),(2010.09,0.58),(2010.21,0.62),(2010.34,0.65),(2010.46,0.7),(2010.58,0.68),(2010.70,0.67),(2010.82,0.65),(2010.95,0.63),(2011.07,0.61),(2011.19,0.6),(2011.43,0.63),(2011.68,0.65),(2011.92,0.67),(2012.17,0.69),(2012.41,0.68),(2012.66,0.66),(2012.90,0.64),(2013.15,0.62),(2013.39,0.6),(2013.63,0.58),(2013.88,0.57),(2014.12,0.56),(2014.37,0.56),(2014.61,0.55),(2014.85,0.54),(2015.10,0.55),(2015.34,0.58),(2015.59,0.6),(2015.83,0.62),(2016.08,0.64),(2016.32,0.645),(2016.56,0.63),(2016.81,0.62),(2017.05,0.61),(2017.30,0.6),(2017.54,0.59),(2017.78,0.58),(2018.03,0.57),(2018.27,0.58),(2018.52,0.6),(2018.76,0.59),(2019.01,0.58),(2019.25,0.56),(2019.49,0.55),(2019.74,0.54),(2019.86,0.53),(2019.98,0.7),(2020.11,0.67),(2020.23,0.63),(2020.35,0.6),(2020.47,0.6),(2020.59,0.58),(2020.72,0.55),(2020.96,0.54),(2021.21,0.52),(2021.45,0.5),(2021.69,0.49),(2021.84,0.49)]

sop_avg_roll = [(2001.13,0.95),(2001.20,0.92),(2001.30,0.9),(2001.40,0.95),(2001.50,1.0),(2003.94,1.0),(2004.01,0.94),(2004.11,1.0),(2005.65,1.0),(2005.77,0.9),(2005.89,0.8),(2006.01,0.78),(2006.09,0.6),(2006.19,0.52),(2006.28,0.48),(2006.38,0.45),(2006.50,0.38),(2006.62,0.32),(2006.75,0.25),(2006.82,0.2),(2006.92,0.25),(2007.01,0.22),(2007.11,0.25),(2007.21,0.17),(2007.31,0.35),(2007.41,0.38),(2007.50,0.4),(2007.60,0.35),(2007.70,0.32),(2007.80,0.38),(2007.89,0.15),(2007.99,0.32),(2008.09,0.4),(2008.19,0.3),(2008.29,0.32),(2008.38,0.42),(2008.48,0.35),(2008.58,0.3),(2008.68,0.2),(2008.77,0.0),(2009.07,0.0),(2009.17,0.35),(2009.26,0.5),(2009.36,0.55),(2009.46,0.6),(2009.56,0.5),(2009.65,0.47),(2009.75,0.55),(2009.85,0.45),(2009.95,0.4),(2010.04,0.38),(2010.14,0.42),(2010.24,0.45),(2010.34,0.55),(2010.43,0.5),(2010.53,0.6),(2010.63,0.68),(2010.73,0.7),(2010.83,0.68),(2010.92,0.66),(2011.02,0.7),(2011.14,0.68),(2011.26,0.72),(2011.39,0.68),(2011.46,0.58),(2011.56,0.9),(2011.66,0.93),(2011.75,1.0),(2012.00,1.0),(2012.12,0.98),(2012.98,1.0),(2013.10,0.92),(2013.22,1.0),(2018.35,1.0),(2018.47,0.9),(2018.60,0.72),(2018.72,0.9),(2018.84,0.75),(2018.96,0.85),(2019.09,0.7),(2019.21,0.82),(2019.32,0.85),(2019.45,0.7),(2019.57,0.85),(2019.69,0.68),(2019.81,0.65),(2019.93,1.0),(2020.42,1.0),(2020.54,0.83),(2020.67,0.77),(2020.79,0.8),(2020.91,0.45),(2021.03,0.5),(2021.16,0.35),(2021.28,0.3),(2021.40,0.3),(2021.52,0.29),(2021.64,0.3),(2021.84,0.33)]
sop_avg_exp = [(2001.13,0.85),(2001.20,0.95),(2001.30,0.9),(2001.40,0.9),(2001.50,1.0),(2002.47,1.0),(2002.55,0.85),(2002.67,0.83),(2002.77,0.9),(2002.86,1.0),(2003.21,1.0),(2003.33,0.9),(2003.45,0.85),(2003.57,0.88),(2003.69,0.85),(2003.82,0.65),(2003.94,0.55),(2004.06,0.53),(2004.18,0.58),(2004.30,0.6),(2004.43,0.62),(2004.55,0.67),(2004.67,0.7),(2004.79,0.68),(2004.91,0.73),(2005.04,0.7),(2005.16,0.72),(2005.28,0.68),(2005.40,0.65),(2005.52,0.64),(2005.65,0.63),(2005.77,0.62),(2005.89,0.62),(2006.01,0.6),(2006.14,0.59),(2006.26,0.58),(2006.38,0.55),(2006.50,0.54),(2006.62,0.53),(2006.75,0.53),(2006.87,0.55),(2006.99,0.56),(2007.11,0.57),(2007.24,0.58),(2007.36,0.57),(2007.48,0.55),(2007.60,0.55),(2007.72,0.54),(2007.85,0.55),(2007.97,0.56),(2008.09,0.6),(2008.21,0.63),(2008.34,0.62),(2008.46,0.57),(2008.58,0.55),(2008.65,0.55),(2008.73,0.2),(2008.82,0.08),(2008.92,0.12),(2009.02,0.0),(2009.12,0.3),(2009.21,0.55),(2009.31,0.57),(2009.43,0.58),(2009.56,0.6),(2009.68,0.58),(2009.80,0.56),(2009.92,0.55),(2010.04,0.58),(2010.17,0.6),(2010.29,0.58),(2010.41,0.63),(2010.53,0.66),(2010.65,0.68),(2010.78,0.67),(2010.90,0.66),(2011.02,0.67),(2011.14,0.67),(2011.26,0.66),(2011.39,0.64),(2011.46,0.58),(2011.56,0.68),(2011.75,0.7),(2012.00,0.72),(2012.24,0.73),(2012.49,0.74),(2012.98,0.74),(2013.47,0.74),(2013.96,0.73),(2014.44,0.72),(2014.68,0.73),(2014.93,0.73),(2015.05,0.71),(2015.12,0.74),(2015.42,0.74),(2015.66,0.76),(2015.78,0.8),(2015.91,0.84),(2016.15,0.85),(2016.39,0.85),(2016.64,0.84),(2016.88,0.83),(2017.13,0.83),(2017.37,0.82),(2017.62,0.8),(2017.74,0.79),(2017.86,0.81),(2017.98,0.8),(2018.10,0.79),(2018.23,0.81),(2018.35,0.78),(2018.47,0.76),(2018.60,0.74),(2018.72,0.76),(2018.84,0.74),(2018.96,0.76),(2019.09,0.73),(2019.21,0.75),(2019.32,0.72),(2019.45,0.73),(2019.57,0.71),(2019.69,0.73),(2019.81,0.7),(2019.93,0.72),(2020.06,0.85),(2020.18,0.92),(2020.30,0.88),(2020.42,0.85),(2020.54,0.82),(2020.67,0.8),(2020.79,0.78),(2020.91,0.74),(2021.03,0.7),(2021.28,0.67),(2021.52,0.66),(2021.84,0.67)]

svix_avg_roll = [(2001.13,1.0),(2003.77,1.0),(2003.89,0.88),(2004.01,0.76),(2004.13,0.85),(2004.26,0.95),(2004.38,0.9),(2004.50,0.92),(2004.62,0.85),(2004.74,0.88),(2004.87,0.85),(2004.99,0.9),(2005.11,0.85),(2005.23,0.8),(2005.35,0.78),(2005.48,0.72),(2005.60,0.8),(2005.72,0.75),(2005.84,0.65),(2005.96,0.6),(2006.09,0.52),(2006.21,0.45),(2006.33,0.4),(2006.45,0.35),(2006.58,0.3),(2006.70,0.28),(2006.82,0.22),(2006.94,0.2),(2007.06,0.18),(2007.14,0.3),(2007.24,0.3),(2007.33,0.38),(2007.43,0.35),(2007.53,0.44),(2007.63,0.38),(2007.73,0.3),(2007.82,0.22),(2007.92,0.34),(2008.02,0.36),(2008.11,0.35),(2008.21,0.38),(2008.31,0.33),(2008.41,0.35),(2008.50,0.3),(2008.60,0.2),(2008.67,0.0),(2009.02,0.0),(2009.14,0.25),(2009.26,0.45),(2009.38,0.55),(2009.51,0.58),(2009.63,0.56),(2009.75,0.55),(2009.87,0.57),(2009.99,0.53),(2010.12,0.52),(2010.24,0.6),(2010.36,0.65),(2010.48,0.7),(2010.60,0.68),(2010.73,0.7),(2010.85,0.68),(2010.97,0.65),(2011.09,0.66),(2011.21,0.64),(2011.34,0.7),(2011.46,0.72),(2011.58,0.75),(2011.70,0.82),(2011.82,0.85),(2011.95,0.84),(2012.07,0.86),(2012.19,0.87),(2012.31,0.85),(2012.44,0.86),(2012.56,0.84),(2012.68,0.8),(2012.80,0.78),(2012.92,0.75),(2013.05,0.72),(2013.17,0.68),(2013.29,0.72),(2013.41,0.73),(2013.54,0.92),(2013.66,1.0),(2014.03,1.0),(2014.15,0.85),(2014.27,0.55),(2014.34,0.43),(2014.44,0.5),(2014.54,0.45),(2014.63,0.55),(2014.73,0.38),(2014.83,0.5),(2014.93,0.48),(2015.02,0.6),(2015.12,0.4),(2015.22,0.35),(2015.32,0.2),(2015.42,0.3),(2015.51,0.4),(2015.61,0.55),(2015.73,0.7),(2015.86,0.85),(2015.98,0.9),(2016.10,0.95),(2016.22,0.88),(2016.34,0.78),(2016.44,0.8),(2016.54,0.6),(2016.63,0.5),(2016.73,0.4),(2016.83,0.35),(2016.95,0.28),(2017.08,0.25),(2017.20,0.28),(2017.32,0.25),(2017.45,0.22),(2017.57,0.18),(2017.69,0.15),(2017.81,0.12),(2017.93,0.3),(2018.05,0.35),(2018.17,0.36),(2018.30,0.3),(2018.42,0.22),(2018.54,0.42),(2018.66,0.5),(2018.78,0.45),(2018.91,0.6),(2019.03,0.52),(2019.15,0.64),(2019.27,0.6),(2019.40,0.55),(2019.52,0.5),(2019.64,0.45),(2019.76,0.58),(2019.88,0.95),(2020.00,1.0),(2020.25,1.0),(2020.37,0.88),(2020.50,0.9),(2020.62,0.8),(2020.74,0.78),(2020.86,0.72),(2020.98,0.7),(2021.16,0.6)]
svix_avg_exp = [(2001.13,1.0),(2003.77,1.0),(2003.89,0.85),(2004.01,0.92),(2004.13,0.95),(2004.26,0.92),(2004.38,0.98),(2004.50,0.95),(2004.62,0.9),(2004.74,0.92),(2004.87,0.87),(2004.99,0.85),(2005.11,0.86),(2005.23,0.82),(2005.35,0.8),(2005.48,0.8),(2005.60,0.79),(2005.72,0.78),(2005.84,0.75),(2005.96,0.74),(2006.09,0.72),(2006.21,0.7),(2006.33,0.68),(2006.45,0.66),(2006.58,0.64),(2006.70,0.63),(2006.82,0.64),(2006.94,0.66),(2007.06,0.67),(2007.19,0.66),(2007.31,0.67),(2007.43,0.66),(2007.55,0.67),(2007.68,0.7),(2007.80,0.72),(2007.92,0.73),(2008.04,0.72),(2008.16,0.76),(2008.28,0.76),(2008.41,0.72),(2008.53,0.7),(2008.60,0.69),(2008.67,0.25),(2008.77,0.2),(2008.85,0.25),(2008.95,0.0),(2009.07,0.0),(2009.14,0.5),(2009.26,0.62),(2009.38,0.68),(2009.51,0.67),(2009.75,0.68),(2009.99,0.68),(2010.24,0.7),(2010.36,0.75),(2010.48,0.74),(2010.73,0.72),(2010.97,0.72),(2011.21,0.72),(2011.46,0.73),(2011.70,0.75),(2011.95,0.76),(2012.19,0.77),(2012.44,0.78),(2012.68,0.76),(2012.92,0.74),(2013.17,0.73),(2013.41,0.72),(2013.66,0.7),(2013.90,0.68),(2014.15,0.66),(2014.39,0.65),(2014.63,0.65),(2014.88,0.64),(2015.12,0.63),(2015.37,0.65),(2015.61,0.68),(2015.86,0.7),(2016.10,0.72),(2016.34,0.72),(2016.59,0.71),(2016.83,0.7),(2017.08,0.7),(2017.32,0.69),(2017.57,0.68),(2017.81,0.67),(2017.93,0.65),(2018.05,0.66),(2018.30,0.65),(2018.42,0.63),(2018.54,0.65),(2018.66,0.62),(2018.78,0.64),(2018.91,0.62),(2019.15,0.62),(2019.40,0.61),(2019.64,0.6),(2019.81,0.6),(2019.93,0.72),(2020.05,0.76),(2020.17,0.75),(2020.37,0.72),(2020.50,0.73),(2020.74,0.72),(2020.98,0.71),(2021.16,0.7)]

recessions = [(2001.17, 2001.88), (2007.92, 2009.46), (2020.08, 2020.29)]
year_ticks = [2002, 2004, 2006, 2008, 2010, 2012, 2014, 2016, 2018, 2020]
delta_ticks = [0, 0.2, 0.4, 0.6, 0.8, 1]
delta_labels = {0: "0", 0.2: "0.2", 0.4: "0.4", 0.6: "0.6", 0.8: "0.8", 1: "1"}

row_titles = [
    ["CSP (Polk et al., 2006) + CSR (K = 1)",
     "DP\u1d48\u02b3\u2071\u1da0\u1d57 (Campbell, 2018) + CSR (K = 1)",
     "SOP (Ferreira and Santa-Clara, 2011) + CSR (K = 1)",
     "SVIX\u00b2 (Martin, 2017) + CSR (K = 1)"],
    ["CSP (Polk et al., 2006) + CSR (Optimal K)",
     "DP\u1d48\u02b3\u2071\u1da0\u1d57 (Campbell, 2018) + CSR (Optimal K)",
     "SOP (Ferreira and Santa-Clara, 2011) + CSR (Optimal K)",
     "SVIX\u00b2 (Martin, 2017) + CSR (Optimal K)"],
    ["CSP (Polk et al., 2006) + CSR (Average M\u0302\u1d39\u02e2\u1d31\u2087\u2085%)",
     "DP\u1d48\u02b3\u2071\u1da0\u1d57 (Campbell, 2018) + CSR (Average M\u0302\u1d39\u02e2\u1d31\u2087\u2085%)",
     "SOP (Ferreira and Santa-Clara, 2011) + CSR (Average M\u0302\u1d39\u02e2\u1d31\u2087\u2085%)",
     "SVIX\u00b2 (Martin, 2017) + CSR (Average M\u0302\u1d39\u02e2\u1d31\u2087\u2085%)"],
]
rolling = [
    [csp_k1_roll, dp_k1_roll, sop_k1_roll, svix_k1_roll],
    [csp_opt_roll, dp_opt_roll, sop_opt_roll, svix_opt_roll],
    [csp_avg_roll, dp_avg_roll, sop_avg_roll, svix_avg_roll],
]
expanding = [
    [csp_k1_exp, dp_k1_exp, sop_k1_exp, svix_k1_exp],
    [csp_opt_exp, dp_opt_exp, sop_opt_exp, svix_opt_exp],
    [csp_avg_exp, dp_avg_exp, sop_avg_exp, svix_avg_exp],
]

# ---------------- styling / layout ----------------
BLUE = "#0072BD"
ORANGE = "#D95319"
AXC = "#262626"
SERIF = "Liberation Serif"
X0, X1 = 2001.12, 2021.85
COL_W = 353
LEFT = 46
PLOT_W = 282
LAST_W = 1378 - 3 * COL_W
ROW_H = 231
TOP = 21
PLOT_H = 176
LAST_H = 679 - 2 * ROW_H

def xy(pairs):
    return [p[0] for p in pairs], [p[1] for p in pairs]

def make_panel(r, c):
    last_col = (c == 3)
    w = LAST_W if last_col else COL_W
    h = LAST_H if r == 2 else ROW_H
    plot_w = (LAST_W - LEFT) if last_col else PLOT_W
    right_b = w - LEFT - plot_w
    bottom_b = h - TOP - PLOT_H
    x_end = X0 + plot_w * (X1 - X0) / PLOT_W
    ttl = Title(text=row_titles[r][c], align="center", text_font=SERIF,
                text_font_size=("12px" if r == 2 else "13px"),
                text_font_style="normal", text_color="#000000",
                standoff=3, offset=0)
    p = figure(width=w, height=h, output_backend="svg", toolbar_location=None,
               title=ttl,
               x_range=Range1d(X0, x_end), y_range=Range1d(0, 1),
               min_border_left=LEFT, min_border_right=right_b,
               min_border_top=TOP, min_border_bottom=bottom_b,
               background_fill_color="white", border_fill_color="white")
    p.grid.visible = False
    p.outline_line_color = AXC
    p.outline_line_width = 0.6
    p.outline_line_alpha = 0.9

    for ax in (p.xaxis[0], p.yaxis[0]):
        ax.axis_line_color = None
        ax.major_tick_in = 3
        ax.major_tick_out = 0
        ax.major_tick_line_color = AXC
        ax.major_tick_line_width = 0.6
        ax.minor_tick_line_color = None
        ax.major_label_text_font = "Liberation Sans"
        ax.major_label_text_font_size = "10px"
        ax.major_label_text_color = AXC
    p.xaxis.ticker = FixedTicker(ticks=year_ticks)
    p.xaxis.major_label_standoff = 6
    p.yaxis.ticker = FixedTicker(ticks=delta_ticks)
    p.yaxis.major_label_overrides = delta_labels
    p.yaxis.major_label_standoff = 4
    p.yaxis.axis_label = "\u03b4\u0302\u209c"
    p.yaxis.axis_label_text_font = SERIF
    p.yaxis.axis_label_text_font_style = "italic"
    p.yaxis.axis_label_text_font_size = "12px"
    p.yaxis.axis_label_text_color = AXC
    p.yaxis.axis_label_standoff = 8

    p.quad(left=[a for a, b in recessions], right=[b for a, b in recessions],
           bottom=0, top=1, fill_color="#ececec", line_color=None)
    rx, ry = xy(rolling[r][c])
    ex, ey = xy(expanding[r][c])
    lr = p.line(rx, ry, line_color=BLUE, line_width=0.8)
    le = p.line(ex, ey, line_color=ORANGE, line_width=0.8)
    if r == 0 and c == 0:
        leg = Legend(items=[LegendItem(label="Rolling \u03b4", renderers=[lr]),
                            LegendItem(label="Expanding \u03b4", renderers=[le])],
                     location="bottom_right")
        leg.label_text_font = SERIF
        leg.label_text_font_size = "15px"
        leg.label_text_color = "#000000"
        leg.glyph_width = 22
        leg.glyph_height = 16
        leg.label_height = 16
        leg.label_standoff = 5
        leg.spacing = 0
        leg.padding = 3
        leg.margin = 5
        leg.border_line_color = AXC
        leg.border_line_width = 0.6
        leg.background_fill_color = "white"
        leg.background_fill_alpha = 1.0
        p.add_layout(leg, "center")
    return p

rows = []
for r in range(3):
    rows.append(row(*[make_panel(r, c) for c in range(4)], spacing=0))
layout = column(*rows, spacing=0)

open("out.html", "w").write(file_html(layout, INLINE))
